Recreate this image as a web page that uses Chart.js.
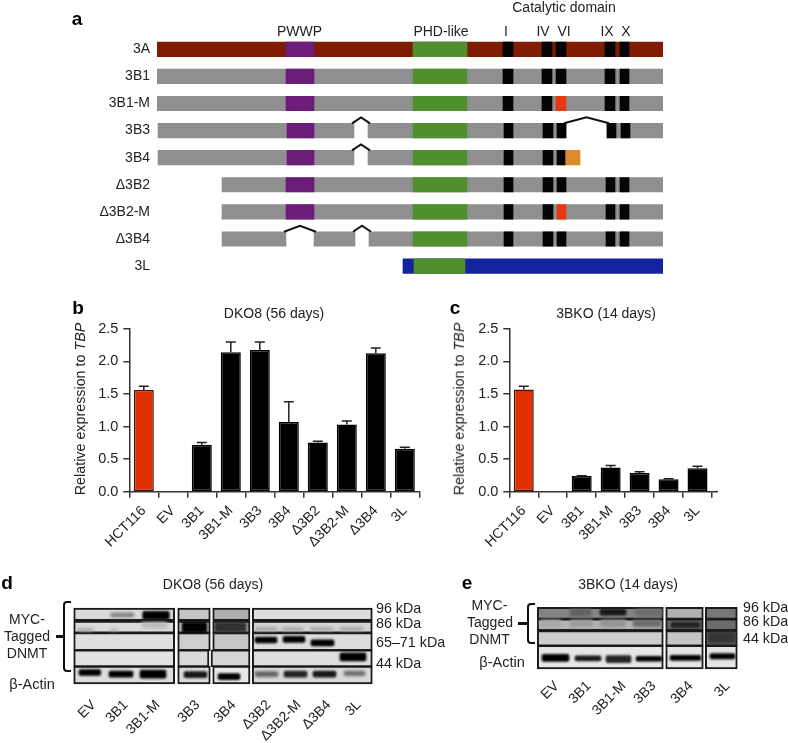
<!DOCTYPE html>
<html>
<head>
<meta charset="utf-8">
<title>DNMT3 isoforms</title>
<script src="https://cdn.jsdelivr.net/npm/chart.js@4/dist/chart.umd.min.js"></script>
<style>
  html, body { margin: 0; padding: 0; background: #fff; }
  #page { position: relative; width: 788px; height: 743px; overflow: hidden; font-family: "Liberation Sans", Arial, sans-serif; color: #222; }
  #page canvas { position: absolute; }
  .txt { position: absolute; white-space: nowrap; line-height: 1; }
  .bracket { position: absolute; border: 2.5px solid #111; border-right: 0; border-radius: 4px 0 0 4px; box-sizing: border-box; }
  .stem { position: absolute; height: 2.5px; background: #111; }
</style>
</head>
<body>
<div id="page">
  <canvas id="chartA" width="788" height="295" style="left:0;top:0"></canvas>
  <canvas id="chartB" width="370" height="240" style="left:60px;top:315px"></canvas>
  <canvas id="chartC" width="300" height="240" style="left:440px;top:315px"></canvas>
  <canvas id="chartD" width="450" height="110" style="left:0;top:590px"></canvas>
  <canvas id="chartE" width="338" height="110" style="left:450px;top:590px"></canvas>
</div>
<script>
// panel a: segments along each construct, [construct, start, end]
const constructs = ["3A", "3B1", "3B1-M", "3B3", "3B4", "Δ3B2", "Δ3B2-M", "Δ3B4", "3L"];
const maroonBody = [["3A", 0, 506]];
const greyBody = [
  ["3B1", 0, 506], ["3B1-M", 0, 506],
  ["3B3", 1, 197], ["3B3", 211, 409], ["3B3", 450, 506],
  ["3B4", 1, 197], ["3B4", 211, 408],
  ["Δ3B2", 65, 506], ["Δ3B2-M", 65, 506],
  ["Δ3B4", 65, 129], ["Δ3B4", 157, 198], ["Δ3B4", 212, 506],
];
const blueBody = [["3L", 246, 506]];
const pwwpDomain = [
  ["3A", 129, 157], ["3B1", 129, 157], ["3B1-M", 129, 157], ["3B3", 130, 157],
  ["3B4", 130, 157], ["Δ3B2", 129, 157], ["Δ3B2-M", 129, 157],
];
const phdDomain = [
  ["3A", 256, 310], ["3B1", 256, 310], ["3B1-M", 256, 310], ["3B3", 256, 310], ["3B4", 256, 310],
  ["Δ3B2", 256, 310], ["Δ3B2-M", 256, 310], ["Δ3B4", 256, 310], ["3L", 257, 308],
];
const motifI = [
  ["3A", 346, 356], ["3B1", 346, 356], ["3B1-M", 346, 356], ["3B3", 347, 356], ["3B4", 347, 356],
  ["Δ3B2", 347, 356], ["Δ3B2-M", 347, 356], ["Δ3B4", 347, 356],
];
const motifIV = [
  ["3A", 385, 395], ["3B1", 385, 395], ["3B1-M", 385, 395], ["3B3", 386, 396], ["3B4", 386, 396],
  ["Δ3B2", 386, 396], ["Δ3B2-M", 386, 396], ["Δ3B4", 386, 396],
];
const motifVI = [["3A", 399, 409], ["3B1", 399, 409], ["3B3", 400, 409], ["3B4", 400, 408], ["Δ3B2", 400, 409], ["Δ3B4", 400, 409]];
const mutatedVI = [["3B1-M", 399, 409], ["Δ3B2-M", 400, 409]];
const motifIX = [
  ["3A", 448, 458], ["3B1", 448, 458], ["3B1-M", 448, 458], ["3B3", 450, 459],
  ["Δ3B2", 449, 458], ["Δ3B2-M", 449, 458], ["Δ3B4", 449, 458],
];
const motifX = [
  ["3A", 463, 472], ["3B1", 463, 472], ["3B1-M", 463, 472], ["3B3", 464, 473],
  ["Δ3B2", 463, 472], ["Δ3B2-M", 463, 472], ["Δ3B4", 463, 472],
];
const truncatedTail = [["3B4", 408, 423]];
const skippedExons = [["3B3", 197, 211], ["3B3", 409, 450], ["3B4", 197, 211], ["Δ3B4", 129, 157], ["Δ3B4", 198, 212]];

// panels b and c
const labelsB = ["HCT116", "EV", "3B1", "3B1-M", "3B3", "3B4", "Δ3B2", "Δ3B2-M", "Δ3B4", "3L"];
const valuesB = [1.56, 0, 0.72, 2.14, 2.175, 1.07, 0.753, 1.03, 2.125, 0.658];
const upperB = [1.617, 0, 0.753, 2.295, 2.295, 1.38, 0.773, 1.085, 2.205, 0.683];
const labelsC = ["HCT116", "EV", "3B1", "3B1-M", "3B3", "3B4", "3L"];
const valuesC = [1.566, 0, 0.241, 0.371, 0.286, 0.19, 0.361];
const upperC = [1.617, 0, 0.246, 0.4, 0.306, 0.2, 0.39];
const yTicks = [0, 0.5, 1, 1.5, 2, 2.5];

// panels d and e: [from, to, migration, thickness, signal]
const blotPanelsD = [
  [73.7, 174.7, 608.2, 12.5, 0.09], [177.7, 210.3, 608.2, 12.5, 0.18], [212.7, 250, 608.2, 12.5, 0.27], [252.3, 372.3, 608.2, 12.5, 0.08],
  [73.7, 174.7, 623.5, 12, 0.09], [177.7, 210.3, 623.5, 12, 0.16], [212.7, 250, 623.5, 12, 0.38], [252.3, 372.3, 623.5, 12, 0.12],
  [73.7, 174.7, 641, 18, 0.07], [177.7, 210.3, 641, 18, 0.14], [212.7, 250, 641, 18, 0.18], [252.3, 372.3, 641, 18, 0.08],
  [73.7, 174.7, 661, 17, 0.06], [177.7, 209, 661, 17, 0.09], [211, 250, 661, 17, 0.11], [252.3, 372.3, 661, 17, 0.07],
  [73.7, 174.7, 681, 18, 0.08], [177.7, 210.3, 681, 18, 0.09], [212.7, 250, 681, 18, 0.03], [252.3, 372.3, 681, 18, 0.09],
];
const blotBandsD = [
  [110.7, 134, 609, 4.5, 0.45], [142.7, 169.3, 609.5, 8, 1],
  [78, 93, 627, 2.5, 0.35], [110, 118, 627, 2, 0.3], [142, 167, 621, 6, 0.22], [182, 207, 623.8, 10, 1], [215, 246, 623.5, 9, 0.8],
  [255, 277, 626, 3, 0.3], [282, 303, 626, 3, 0.3], [310, 333, 626, 3, 0.3], [340, 363, 626, 3, 0.3],
  [255, 277, 639, 6, 1], [283, 305, 638.3, 6, 1], [311, 334, 642.5, 6, 1], [340, 366, 659.3, 8, 1],
  [79, 100.7, 678, 6, 1], [109, 133, 680, 6, 1], [140, 166, 680, 8, 1], [184, 207, 680.5, 6, 0.9], [218, 240, 683, 6, 1],
  [255, 278, 680, 5, 0.6], [284, 307, 680, 6, 0.85], [313, 336, 680, 6, 0.9], [344, 365, 679, 4.5, 0.55],
];
const blotPanelsE = [
  [537.3, 663.3, 607, 12, 0.45], [665.7, 703.3, 607, 12, 0.27], [705.3, 737.3, 607, 12, 0.5],
  [537.3, 663.3, 620.7, 12, 0.25], [665.7, 703.3, 620.7, 12, 0.55], [705.3, 737.3, 620.7, 12, 0.55],
  [537.3, 663.3, 637, 15.5, 0.14], [665.7, 703.3, 637, 15.5, 0.18], [705.3, 737.3, 637, 15.5, 0.6],
  [537.3, 663.3, 659.5, 23.6, 0.04], [665.7, 703.3, 659.5, 23.6, 0.05], [705.3, 737.3, 659.5, 23.6, 0.05],
];
const blotBandsE = [
  [570, 591, 606, 7, 0.6], [600, 626, 605.5, 6, 0.9], [635, 662, 606, 7, 0.55],
  [540, 561, 619, 7, 0.3], [570, 593, 619, 7, 0.35], [600, 626, 619, 7, 0.38], [633, 661, 619, 7, 0.55], [671, 700, 621, 6, 0.85],
  [708, 735, 636, 11, 0.78],
  [542, 569, 660.5, 7, 1], [575, 601, 661, 5, 0.9], [606, 631, 662, 7, 0.85], [636, 662, 661.5, 5, 1], [670, 701, 660.5, 5, 1], [710, 735, 658.5, 5.5, 1],
];

const fontFamily = '"Liberation Sans", Arial, sans-serif';
const page = document.getElementById("page");

function addText(text, x, y, size, extra) {
  const el = document.createElement("div");
  el.className = "txt";
  el.innerHTML = text;
  el.style.left = `${x}px`;
  el.style.top = `${y}px`;
  el.style.fontSize = `${size}px`;
  el.style.transform = "translate(-50%,-50%)";
  Object.assign(el.style, extra || {});
  page.appendChild(el);
}

function addSlanted(text, x, y) {
  addText(text, x, y, 14, { transform: "translate(-100%,-50%) rotate(-45deg)", transformOrigin: "100% 50%" });
}

function addBracket(x, top, height, stemX) {
  const b = document.createElement("div");
  b.className = "bracket";
  b.style.cssText = `left:${x}px;top:${top}px;width:8px;height:${height}px`;
  page.appendChild(b);
  const s = document.createElement("div");
  s.className = "stem";
  s.style.cssText = `left:${stemX}px;top:${top + height / 2 - 1}px;width:${x - stemX}px`;
  page.appendChild(s);
}

const chevrons = {
  id: "chevrons",
  afterDatasetsDraw(chart) {
    const { x, y } = chart.scales;
    const ctx = chart.ctx;
    ctx.save();
    ctx.strokeStyle = "#111";
    ctx.lineWidth = 2;
    skippedExons.forEach(([row, start, end]) => {
      const barTop = y.getPixelForValue(constructs.indexOf(row)) - 7.25;
      const x0 = x.getPixelForValue(start) - 2;
      const x1 = x.getPixelForValue(end) + 2;
      ctx.beginPath();
      ctx.moveTo(x0, barTop);
      ctx.lineTo((x0 + x1) / 2, barTop - 6);
      ctx.lineTo(x1, barTop);
      ctx.stroke();
    });
    ctx.restore();
  },
};

function buildConstructChart() {
  const layer = (rows, color) => ({
    data: rows.map((r) => ({ y: r[0], x: [r[1], r[2]] })),
    backgroundColor: color,
    grouped: false,
    barThickness: 14.5,
    borderWidth: 0,
  });

  new Chart(document.getElementById("chartA"), {
    type: "bar",
    data: {
      labels: constructs,
      // first dataset ends up on top
      datasets: [
        layer(motifI, "#050505"), layer(motifIV, "#050505"), layer(motifVI, "#050505"),
        layer(motifIX, "#050505"), layer(motifX, "#050505"),
        layer(mutatedVI, "#e5380f"), layer(truncatedTail, "#dc8a2a"),
        layer(pwwpDomain, "#6c1d79"), layer(phdDomain, "#4f8f2c"),
        layer(maroonBody, "#7f1c02"), layer(greyBody, "#8f8f8f"), layer(blueBody, "#13239b"),
      ],
    },
    options: {
      indexAxis: "y",
      responsive: false,
      animation: false,
      layout: { padding: { top: 35.75, bottom: 11.75, left: 0, right: 125 } },
      plugins: { legend: { display: false }, tooltip: { enabled: false } },
      scales: {
        x: { display: false, min: 0, max: 506 },
        y: {
          grid: { display: false, drawTicks: false },
          border: { display: false },
          ticks: { color: "#222", padding: 7, font: { family: fontFamily, size: 14 } },
          afterFit: (scale) => { scale.width = 157; },
        },
      },
    },
    plugins: [chevrons],
  });
}

const errorBars = {
  id: "errorBars",
  afterDatasetsDraw(chart, args, opts) {
    const { x, y } = chart.scales;
    const ctx = chart.ctx;
    ctx.save();
    ctx.strokeStyle = "#222";
    ctx.lineWidth = 1.5;
    opts.upper.forEach((top, i) => {
      if (top <= chart.data.datasets[0].data[i]) return;
      const px = x.getPixelForValue(i);
      const y0 = y.getPixelForValue(chart.data.datasets[0].data[i]);
      const y1 = y.getPixelForValue(top);
      ctx.beginPath();
      ctx.moveTo(px, y0);
      ctx.lineTo(px, y1);
      ctx.moveTo(px - 5, y1);
      ctx.lineTo(px + 5, y1);
      ctx.stroke();
    });
    // the baseline runs a little past the last bar
    if (opts.extend) {
      ctx.strokeStyle = "#333";
      ctx.beginPath();
      ctx.moveTo(chart.chartArea.right, chart.chartArea.bottom);
      ctx.lineTo(chart.chartArea.right + opts.extend, chart.chartArea.bottom);
      ctx.stroke();
    }
    ctx.restore();
  },
};

function buildExpressionChart(id, labels, values, upper, areaLeft, areaRight, extend) {
  new Chart(document.getElementById(id), {
    type: "bar",
    data: {
      labels,
      datasets: [{
        data: values,
        backgroundColor: labels.map((l) => (l === "HCT116" ? "#e03000" : "#000")),
        borderColor: labels.map((l) => (l === "HCT116" ? "#4a1206" : "#000")),
        borderWidth: 1.5,
        borderSkipped: false,
        barPercentage: 0.69,
        categoryPercentage: 1,
      }],
    },
    options: {
      responsive: false,
      animation: false,
      layout: { padding: { top: 10.7, bottom: 0, left: 0, right: areaRight } },
      plugins: {
        legend: { display: false },
        tooltip: { enabled: false },
        errorBars: { upper, extend },
      },
      scales: {
        x: {
          grid: { drawOnChartArea: false, tickLength: 6, tickColor: "#333", lineWidth: 1.5 },
          border: { color: "#333", width: 1.5 },
          ticks: { color: "#222", autoSkip: false, minRotation: 45, maxRotation: 45, padding: 5, font: { family: fontFamily, size: 14 } },
          afterFit: (scale) => { scale.height = 63.3; },
        },
        y: {
          min: 0,
          max: 2.5,
          afterBuildTicks: (scale) => { scale.ticks = yTicks.map((value) => ({ value })); },
          grid: { drawOnChartArea: false, tickLength: 6, tickColor: "#333", lineWidth: 1.5 },
          border: { color: "#333", width: 1.5 },
          ticks: { color: "#222", padding: 5, callback: (v) => v.toFixed(1), font: { family: fontFamily, size: 14.5 } },
          afterFit: (scale) => { scale.width = areaLeft; },
        },
      },
    },
    plugins: [errorBars],
  });
}

const blurBands = {
  id: "blurBands",
  beforeDatasetDraw(chart, args) {
    const ds = chart.data.datasets[args.index];
    if (ds.bandBlur) chart.ctx.filter = `blur(${ds.bandBlur}px)`;
  },
  afterDatasetDraw(chart) {
    chart.ctx.filter = "none";
  },
};

function buildBlot(id, panels, bands, xMin, xMax) {
  const grey = (signal) => {
    const g = Math.round(240 * (1 - signal));
    return `rgb(${g},${g},${g})`;
  };
  const toDataset = (r, isBand) => ({
    data: [{ y: r[2], x: [r[0], r[1]] }],
    backgroundColor: grey(r[4]),
    borderColor: "#1a1a1a",
    borderWidth: isBand ? 0 : 2,
    borderSkipped: false,
    borderRadius: isBand ? 2 : 0,
    barThickness: r[3],
    grouped: false,
    // faint smears are softer than the strong bands
    bandBlur: isBand ? (r[4] < 0.8 ? 1.6 : 1) : 0,
  });

  new Chart(document.getElementById(id), {
    type: "bar",
    data: {
      datasets: [
        ...bands.map((r) => toDataset(r, true)),
        ...panels.map((r) => toDataset(r, false)),
      ],
    },
    options: {
      indexAxis: "y",
      responsive: false,
      animation: false,
      layout: { padding: 0 },
      plugins: { legend: { display: false }, tooltip: { enabled: false } },
      scales: {
        x: { type: "linear", display: false, min: xMin, max: xMax },
        y: { type: "linear", display: false, min: 590, max: 700, reverse: true },
      },
    },
    plugins: [blurBands],
  });
}

function addAnnotations() {
  addText("a", 77, 18, 19, { fontWeight: "bold", color: "#000" });
  addText("b", 78, 307, 19, { fontWeight: "bold", color: "#000" });
  addText("c", 455, 307, 19, { fontWeight: "bold", color: "#000" });
  addText("d", 7, 582, 19, { fontWeight: "bold", color: "#000" });
  addText("e", 467, 582, 19, { fontWeight: "bold", color: "#000" });

  addText("Catalytic domain", 564, 7, 14);
  addText("PWWP", 299.5, 31, 14);
  addText("PHD-like", 441, 31, 14);
  [["I", 506], ["IV", 543], ["VI", 564], ["IX", 607], ["X", 626]].forEach(([t, x]) => addText(t, x, 31, 14));

  addText("DKO8 (56 days)", 274, 313, 14);
  addText("3BKO (14 days)", 606, 313, 14);
  const yTitle = "Relative expression to <i>TBP</i>";
  addText(yTitle, 80, 409, 14.3, { transform: "translate(-50%,-50%) rotate(-90deg)" });
  addText(yTitle, 459, 409, 14.3, { transform: "translate(-50%,-50%) rotate(-90deg)" });

  addText("DKO8 (56 days)", 213, 584, 14);
  addText("3BKO (14 days)", 628, 584, 14);

  [["96 kDa", 607.7], ["86 kDa", 623.3], ["65–71 kDa", 641.7], ["44 kDa", 662.7]].forEach(([t, y]) =>
    addText(t, 376, y, 14.3, { transform: "translate(0,-50%)" }));
  [["96 kDa", 606.7], ["86 kDa", 621], ["44 kDa", 637.7]].forEach(([t, y]) =>
    addText(t, 743, y, 14.3, { transform: "translate(0,-50%)" }));

  addText("MYC-", 27, 619, 14);
  addText("Tagged", 27, 636, 14);
  addText("DNMT", 27, 653, 14);
  addText("β-Actin", 32, 684, 14.5);
  addBracket(63, 600.5, 71.5, 56);

  addText("MYC-", 489.5, 604.5, 14);
  addText("Tagged", 490, 621.5, 14);
  addText("DNMT", 489.5, 638.5, 14);
  addText("β-Actin", 502, 661.5, 14.5);
  addBracket(527, 602.5, 41.5, 518);

  [["EV", 93], ["3B1", 125], ["3B1-M", 157], ["3B3", 197], ["3B4", 233], ["Δ3B2", 268], ["Δ3B2-M", 298], ["Δ3B4", 328], ["3L", 358]]
    .forEach(([t, x]) => addSlanted(t, x, 702));
  [["EV", 556], ["3B1", 588], ["3B1-M", 623], ["3B3", 653], ["3B4", 690], ["3L", 727]]
    .forEach(([t, x]) => addSlanted(t, x, 683));
}

buildConstructChart();
buildExpressionChart("chartB", labelsB, valuesB, upperB, 69.3, 10.7, 0);
buildExpressionChart("chartC", labelsC, valuesC, upperC, 69.3, 28, 6);
buildBlot("chartD", blotPanelsD, blotBandsD, 0, 450);
buildBlot("chartE", blotPanelsE, blotBandsE, 450, 788);
addAnnotations();
</script>
</body>
</html>
